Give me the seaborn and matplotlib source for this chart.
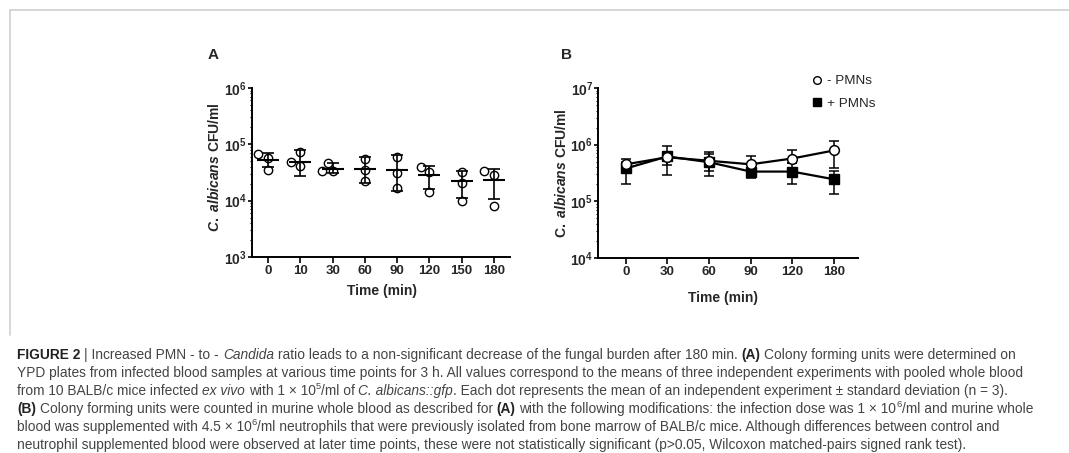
import numpy as np
import pandas as pd
import matplotlib
matplotlib.use("Agg")
import matplotlib.pyplot as plt
import seaborn as sns
from matplotlib.lines import Line2D
from matplotlib.ticker import LogLocator, NullFormatter, FixedLocator, FixedFormatter

# ---------------- data ----------------
# Panel A: individual experiments (CFU/ml) per time point
a_times = ["0", "10", "30", "60", "90", "120", "150", "180"]
a_point_time = ["0", "0", "0",
                "10", "10", "10",
                "30", "30", "30",
                "60", "60", "60",
                "90", "90", "90",
                "120", "120", "120",
                "150", "150", "150",
                "180", "180", "180"]
a_point_cfu = [6.6e4, 5.8e4, 3.5e4,
               7.4e4, 4.8e4, 4.1e4,
               4.7e4, 3.3e4, 3.3e4,
               5.4e4, 3.5e4, 2.2e4,
               5.9e4, 3.1e4, 1.7e4,
               3.9e4, 3.2e4, 1.4e4,
               3.2e4, 2.1e4, 9.9e3,
               3.3e4, 2.9e4, 8.2e3]
a_mean = [5.3e4, 4.9e4, 3.7e4, 3.7e4, 3.5e4, 2.9e4, 2.25e4, 2.35e4]
a_low = [4.0e4, 2.75e4, 3.1e4, 2.1e4, 1.5e4, 1.6e4, 1.1e4, 1.05e4]
a_high = [6.9e4, 7.9e4, 4.6e4, 5.9e4, 6.5e4, 4.2e4, 3.4e4, 3.6e4]

# Panel B: mean and SD bounds
b_times = ["0", "30", "60", "90", "120", "180"]
b_minus_mean = [4.5e5, 6.0e5, 5.2e5, 4.5e5, 5.7e5, 7.9e5]
b_minus_low = [3.8e5, 2.95e5, 2.75e5, 2.6e5, 4.8e5, 3.9e5]
b_minus_high = [5.6e5, 9.6e5, 7.3e5, 6.2e5, 8.0e5, 1.16e6]
b_plus_mean = [3.8e5, 6.2e5, 4.9e5, 3.35e5, 3.35e5, 2.45e5]
b_plus_low = [2.05e5, 4.4e5, 3.5e5, 2.7e5, 2.0e5, 1.37e5]
b_plus_high = [4.9e5, 7.5e5, 6.8e5, 3.9e5, 4.8e5, 3.5e5]
legend_labels = ["- PMNs", "+ PMNs"]

# ---------------- style ----------------
sns.set_theme(style="ticks")
plt.rcParams["font.family"] = ["Liberation Sans", "DejaVu Sans"]
plt.rcParams["mathtext.fontset"] = "custom"
plt.rcParams["mathtext.rm"] = "Liberation Sans:bold"
plt.rcParams["mathtext.bf"] = "Liberation Sans:bold"
plt.rcParams["mathtext.it"] = "Liberation Sans:italic:bold"

W, H = 1069, 453
fig = plt.figure(figsize=(W / 100, H / 100), dpi=100)
fig.patch.set_facecolor("white")

axA = fig.add_axes([252 / W, 1 - 257 / H, (510 - 252) / W, (257 - 88) / H])
axB = fig.add_axes([598 / W, 1 - 258 / H, (858 - 598) / W, (258 - 88) / H])
axA.set_yscale("log")
axB.set_yscale("log")

def style_axis(ax, ylim, exps, xlabels):
    ax.set_facecolor("white")
    ax.set_ylim(*ylim)
    for s in ["top", "right"]:
        ax.spines[s].set_visible(False)
    for s in ["left", "bottom"]:
        ax.spines[s].set_linewidth(1.4)
        ax.spines[s].set_color("black")
    ax.yaxis.set_major_locator(FixedLocator([10.0 ** e for e in exps]))
    ax.yaxis.set_major_formatter(FixedFormatter([r"$\mathbf{10^{%d}}$" % e for e in exps]))
    ax.yaxis.set_minor_locator(LogLocator(base=10, subs=np.arange(2, 10), numticks=20))
    ax.yaxis.set_minor_formatter(NullFormatter())
    ax.set_xticks(np.arange(len(xlabels)))
    ax.set_xticklabels(xlabels)
    ax.tick_params(axis="x", which="major", length=4, width=1.2,
                   direction="out", color="black", pad=2, labelsize=9.5)
    ax.tick_params(axis="y", which="major", length=3, width=1.2,
                   direction="out", color="black", pad=0.5, labelsize=10)
    ax.tick_params(axis="y", which="minor", length=1.8, width=0.8, color="black")
    ax.tick_params(axis="x", which="minor", length=0)
    for lab in ax.get_xticklabels():
        lab.set_fontweight("bold")
    ax.grid(False)

# ---------------- Panel A ----------------
dfA = pd.DataFrame({"time": a_point_time, "cfu": a_point_cfu})
sns.swarmplot(data=dfA, x="time", y="cfu", order=a_times, ax=axA,
              color="white", edgecolor="black", linewidth=1.0, size=6.0, zorder=2)
xa = np.arange(len(a_times))
ma = np.array(a_mean)
axA.errorbar(xa, ma, yerr=[ma - np.array(a_low), np.array(a_high) - ma], fmt="none",
             ecolor="black", elinewidth=1.2, capsize=4, capthick=1.2, zorder=3)
axA.errorbar(xa, ma, xerr=0.34, fmt="none", ecolor="black", elinewidth=1.5,
             capsize=0, zorder=3)
axA.set_xlim(-0.5, len(a_times) - 0.5)
style_axis(axA, (1e3, 1e6), [3, 4, 5, 6], a_times)
axA.set_xlabel("Time (min)", fontsize=10, fontweight="bold")
axA.xaxis.set_label_coords(0.504, -0.16)
axA.set_ylabel(r"$\mathit{C.\ albicans}\ \mathbf{CFU/ml}$", fontsize=10)
axA.yaxis.set_label_coords(-0.118, 0.53)

# ---------------- Panel B ----------------
xb = np.arange(len(b_times))
pm = np.array(b_plus_mean)
mm = np.array(b_minus_mean)
axB.errorbar(xb, pm, yerr=[pm - np.array(b_plus_low), np.array(b_plus_high) - pm],
             fmt="none", ecolor="black", elinewidth=1.1, capsize=3.5, capthick=1.1, zorder=2)
axB.errorbar(xb, mm, yerr=[mm - np.array(b_minus_low), np.array(b_minus_high) - mm],
             fmt="none", ecolor="black", elinewidth=1.1, capsize=3.5, capthick=1.1, zorder=2)
dfBp = pd.DataFrame({"time": b_times, "cfu": b_plus_mean})
dfBm = pd.DataFrame({"time": b_times, "cfu": b_minus_mean})
sns.pointplot(data=dfBp, x="time", y="cfu", order=b_times, ax=axB, color="black",
              markers="s", errorbar=None, linewidth=1.6, markersize=6.5,
              markeredgewidth=1.0, zorder=3)
sns.pointplot(data=dfBm, x="time", y="cfu", order=b_times, ax=axB, color="black",
              markers="o", errorbar=None, linewidth=1.6, markersize=7,
              markerfacecolor="white", markeredgecolor="black", markeredgewidth=1.1,
              zorder=4)
axB.set_xlim(-0.67, 5.58)
style_axis(axB, (1e4, 1e7), [4, 5, 6, 7], b_times)
axB.set_xlabel("Time (min)", fontsize=10, fontweight="bold")
axB.xaxis.set_label_coords(0.48, -0.195)
axB.set_ylabel(r"$\mathbf{C.}\ \mathit{albicans}\ \mathbf{CFU/ml}$", fontsize=10)
axB.yaxis.set_label_coords(-0.11, 0.5)

handles = [Line2D([], [], ls="none", marker="o", mfc="white", mec="black", ms=5.5, mew=1.0),
           Line2D([], [], ls="none", marker="s", mfc="black", mec="black", ms=6, mew=1.0)]
fig.legend(handles, legend_labels, loc="upper left", bbox_to_anchor=(812 / W, 1 - 75 / H),
           frameon=False, fontsize=9.7, handlelength=0.8, handletextpad=0.35,
           labelspacing=0.75, borderpad=0, borderaxespad=0)

# panel letters
fig.text(213 / W, 1 - 55 / H, "A", fontsize=11, fontweight="bold", ha="center", va="center")
fig.text(567 / W, 1 - 55 / H, "B", fontsize=11, fontweight="bold", ha="center", va="center")

# frame lines
fig.add_artist(Line2D([10 / W, 1], [1 - 10 / H, 1 - 10 / H], transform=fig.transFigure,
                      color="#cfcfcf", lw=1.2))
fig.add_artist(Line2D([10 / W, 10 / W], [1 - 10 / H, 1 - 335 / H], transform=fig.transFigure,
                      color="#cfcfcf", lw=1.2))

# ---------------- caption ----------------
cap_fs = 9.95
cap_color = "#444444"
cap_lines = [
    [("FIGURE 2", "b"), (" | Increased PMN - to - ", "r"), ("Candida", "i"),
     (" ratio leads to a non-significant decrease of the fungal burden after 180 min. ", "r"),
     ("(A)", "b"), (" Colony forming units were determined on", "r")],
    [("YPD plates from infected blood samples at various time points for 3 h. All values correspond to the means of three independent experiments with pooled whole blood", "r")],
    [("from 10 BALB/c mice infected ", "r"), ("ex vivo", "i"), (" with 1 \u00d7 10", "r"), ("5", "s"),
     ("/ml of ", "r"), ("C. albicans::gfp", "i"),
     (". Each dot represents the mean of an independent experiment \u00b1 standard deviation (n = 3).", "r")],
    [("(B)", "b"), (" Colony forming units were counted in murine whole blood as described for ", "r"),
     ("(A)", "b"), (" with the following modifications: the infection dose was 1 \u00d7 10", "r"), ("6", "s"),
     ("/ml and murine whole", "r")],
    [("blood was supplemented with 4.5 \u00d7 10", "r"), ("6", "s"),
     ("/ml neutrophils that were previously isolated from bone marrow of BALB/c mice. Although differences between control and", "r")],
    [("neutrophil supplemented blood were observed at later time points, these were not statistically significant (p>0.05, Wilcoxon matched-pairs signed rank test).", "r")],
]

renderer = fig.canvas.get_renderer()
fam = ["Liberation Sans", "DejaVu Sans"]

def kw_for(st):
    kw = dict(family=fam, color=cap_color, fontsize=cap_fs)
    if st == "b":
        kw.update(fontweight="bold", color="#222222")
    elif st == "i":
        kw.update(fontstyle="italic")
    elif st == "s":
        kw.update(fontsize=cap_fs * 0.68)
    return kw

def width_of(s, kw):
    t = fig.text(0, 0, s, **kw)
    w = t.get_window_extent(renderer).width
    t.remove()
    return w

space_w = {}
for st in ["r", "b", "i", "s"]:
    kw = kw_for(st)
    space_w[st] = width_of("a a", kw) - width_of("aa", kw)

x0 = 17
base0 = 359
step = 17.9
for li, segs in enumerate(cap_lines):
    x = x0
    yb = base0 + li * step
    for txt, st in segs:
        kw = kw_for(st)
        lead = len(txt) - len(txt.lstrip(" "))
        trail = len(txt) - len(txt.rstrip(" "))
        x += lead * space_w[st]
        core = txt.strip(" ")
        y = yb - (5.8 if st == "s" else 0)
        if core:
            t = fig.text(x / W, 1 - y / H, core, ha="left", va="baseline", **kw)
            bb = t.get_window_extent(renderer)
            x = bb.x1
        x += trail * space_w[st]

fig.savefig("out.png", dpi=100, facecolor="white")
